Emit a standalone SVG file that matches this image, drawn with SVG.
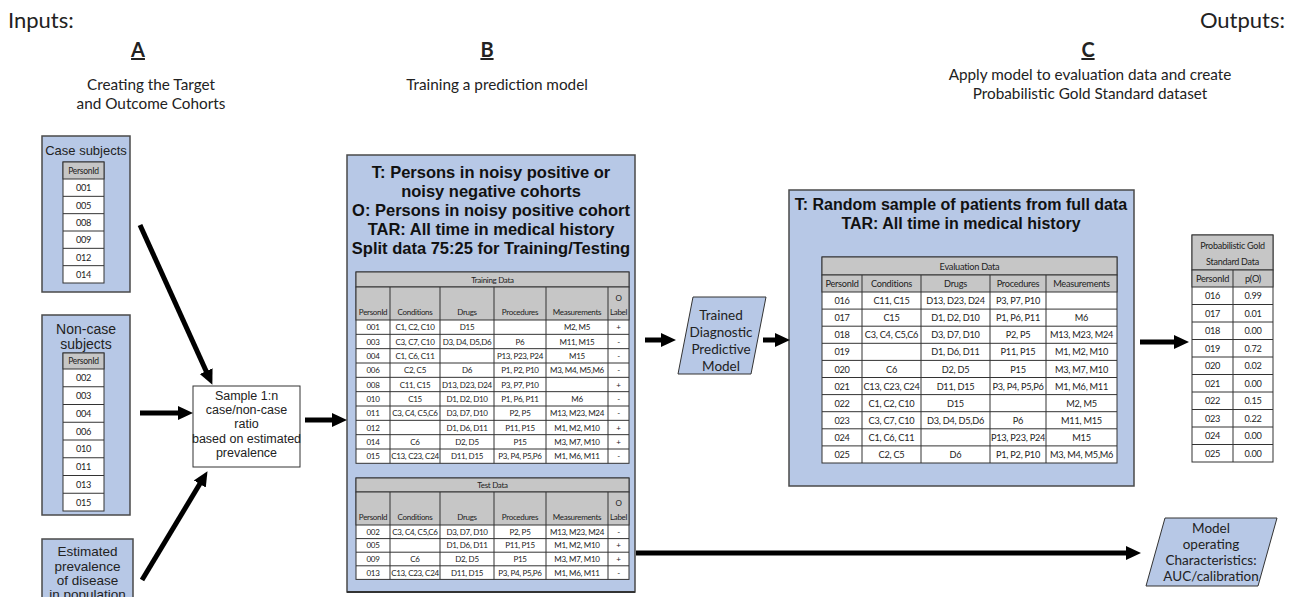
<svg xmlns="http://www.w3.org/2000/svg" width="1293" height="597" viewBox="0 0 1293 597">
<defs>
<style>
.hdr{font-family:Lato,"Liberation Sans",sans-serif;fill:#222}
.big{font-size:22px}
.lbl{font-size:20px;font-weight:bold;text-decoration:underline}
.sub{font-size:15.3px;text-anchor:middle}
.box{fill:#b7c8e6;stroke:#4a4a4a;stroke-width:1.5}
.bold{font-family:"Liberation Sans",Arial,sans-serif;font-weight:bold;fill:#111;text-anchor:middle}
.ar{font-family:"Liberation Sans",Arial,sans-serif;fill:#222;text-anchor:middle}
.cal{font-family:Lato,"Liberation Sans",sans-serif;fill:#222;text-anchor:middle}
.tbl{fill:#fff;stroke:#333;stroke-width:1}
.gry{fill:#c6c6c6;stroke:#333;stroke-width:1}
.grid{fill:none;stroke:#333;stroke-width:1}
.c{font-family:Lato,"Liberation Sans",sans-serif;fill:#222;text-anchor:middle;dominant-baseline:central}
.t8{font-size:8px;letter-spacing:-0.3px}
.t9{font-size:9.2px;letter-spacing:-0.25px}
.conn{stroke:#000;stroke-width:5;fill:none;marker-end:url(#ah)}
</style>
<marker id="ah" markerWidth="16" markerHeight="16" refX="2" refY="8" orient="auto" markerUnits="userSpaceOnUse"><path d="M0,1 L15,8 L0,15 z" fill="#000"/></marker>
</defs>
<rect width="1293" height="597" fill="#fff"/>

<g id="headers" class="hdr">
<text class="big" x="8" y="28">Inputs:</text>
<text class="big" x="1285" y="28" text-anchor="end">Outputs:</text>
<text class="lbl" x="138" y="57" text-anchor="middle">A</text>
<text class="sub" x="151" y="90">Creating the Target</text>
<text class="sub" x="151" y="109">and Outcome Cohorts</text>
<text class="lbl" x="487" y="57" text-anchor="middle">B</text>
<text class="sub" x="497" y="90">Training a prediction model</text>
<text class="lbl" x="1088" y="57" text-anchor="middle">C</text>
<text class="sub" x="1090" y="80">Apply model to evaluation data and create</text>
<text class="sub" x="1090" y="99">Probabilistic Gold Standard dataset</text>
</g>

<g id="case-subjects">
<rect class="box" x="42" y="136" width="88" height="156"/>
<text class="ar" x="86" y="155" font-size="13">Case subjects</text>
<rect class="tbl" x="63" y="162" width="41" height="121"/>
<rect class="gry" x="63" y="162" width="41" height="17"/>
<path class="grid" d="M63,196.33H104M63,213.67H104M63,231H104M63,248.33H104M63,265.67H104"/>
<g class="c t9">
<text x="83.5" y="170.5" font-size="8.5">PersonId</text>
<text x="83.5" y="187.7">001</text><text x="83.5" y="205">005</text><text x="83.5" y="222.3">008</text>
<text x="83.5" y="239.7">009</text><text x="83.5" y="257">012</text><text x="83.5" y="274.3">014</text>
</g>
</g>

<g id="noncase-subjects">
<rect class="box" x="42" y="315" width="88" height="200"/>
<text class="ar" x="86" y="334" font-size="14">Non-case</text>
<text class="ar" x="86" y="349" font-size="14">subjects</text>
<rect class="tbl" x="63" y="353" width="41" height="158"/>
<rect class="gry" x="63" y="353" width="41" height="16"/>
<path class="grid" d="M63,386.75H104M63,404.5H104M63,422.25H104M63,440H104M63,457.75H104M63,475.5H104M63,493.25H104"/>
<g class="c t9">
<text x="83.5" y="361" font-size="8.5">PersonId</text>
<text x="83.5" y="377.9">002</text><text x="83.5" y="395.6">003</text><text x="83.5" y="413.4">004</text>
<text x="83.5" y="431.1">006</text><text x="83.5" y="448.9">010</text><text x="83.5" y="466.6">011</text>
<text x="83.5" y="484.4">013</text><text x="83.5" y="502.1">015</text>
</g>
</g>

<g id="prevalence">
<rect class="box" x="42" y="539" width="91" height="70"/>
<text class="ar" x="87.5" y="556" font-size="13.5">Estimated</text>
<text class="ar" x="87.5" y="571" font-size="13.5">prevalence</text>
<text class="ar" x="87.5" y="585" font-size="13.5">of disease</text>
<text class="ar" x="87.5" y="599" font-size="13.5">in population</text>
</g>

<g id="sample">
<rect x="193" y="386" width="107" height="81" fill="#fff" stroke="#333" stroke-width="1"/>
<text class="ar" x="246.5" y="400" font-size="12.5">Sample 1:n</text>
<text class="ar" x="246.5" y="414" font-size="12.5">case/non-case</text>
<text class="ar" x="246.5" y="428" font-size="12.5">ratio</text>
<text class="ar" x="246.5" y="443" font-size="12.5">based on estimated</text>
<text class="ar" x="246.5" y="457" font-size="12.5">prevalence</text>
</g>

<g id="training-box">
<rect class="box" x="347" y="155" width="288" height="437"/>
<line x1="347" y1="592" x2="635" y2="592" stroke="#333" stroke-width="2"/>
<g class="bold" font-size="16.5">
<text x="491" y="178">T:  Persons in noisy positive or</text>
<text x="491" y="197">noisy negative cohorts</text>
<text x="491" y="216">O:  Persons in noisy positive cohort</text>
<text x="491" y="235">TAR:  All time in medical history</text>
<text x="491" y="254">Split data 75:25 for Training/Testing</text>
</g>
<g id="training-table">
<rect class="tbl" x="356" y="272" width="273" height="191.3"/>
<rect class="gry" x="356" y="272" width="273" height="15"/>
<rect class="gry" x="356" y="287" width="273" height="33"/>
<path class="grid" d="M390,287V463.3M440,287V463.3M494,287V463.3M546,287V463.3M608,287V463.3M356,334.33H629M356,348.67H629M356,363H629M356,377.33H629M356,391.67H629M356,406H629M356,420.33H629M356,434.67H629M356,449H629"/>
<g class="c t8">
<text x="492.5" y="279.5">Training Data</text>
<text x="373" y="312">PersonId</text><text x="415" y="312">Conditions</text><text x="467" y="312">Drugs</text><text x="520" y="312">Procedures</text><text x="577" y="312">Measurements</text><text x="618.5" y="298">O</text><text x="618.5" y="312">Label</text>
<text x="373" y="327.2">001</text><text x="415" y="327.2">C1, C2, C10</text><text x="467" y="327.2">D15</text><text x="577" y="327.2">M2, M5</text><text x="618.5" y="327.2">+</text>
<text x="373" y="341.5">003</text><text x="415" y="341.5">C3, C7, C10</text><text x="467" y="341.5">D3, D4, D5,D6</text><text x="520" y="341.5">P6</text><text x="577" y="341.5">M11, M15</text><text x="618.5" y="341.5">-</text>
<text x="373" y="355.8">004</text><text x="415" y="355.8">C1, C6, C11</text><text x="520" y="355.8">P13, P23, P24</text><text x="577" y="355.8">M15</text><text x="618.5" y="355.8">-</text>
<text x="373" y="370.2">006</text><text x="415" y="370.2">C2, C5</text><text x="467" y="370.2">D6</text><text x="520" y="370.2">P1, P2, P10</text><text x="577" y="370.2">M3, M4, M5,M6</text><text x="618.5" y="370.2">-</text>
<text x="373" y="384.5">008</text><text x="415" y="384.5">C11, C15</text><text x="467" y="384.5">D13, D23, D24</text><text x="520" y="384.5">P3, P7, P10</text><text x="618.5" y="384.5">+</text>
<text x="373" y="398.8">010</text><text x="415" y="398.8">C15</text><text x="467" y="398.8">D1, D2, D10</text><text x="520" y="398.8">P1, P6, P11</text><text x="577" y="398.8">M6</text><text x="618.5" y="398.8">-</text>
<text x="373" y="413.2">011</text><text x="415" y="413.2">C3, C4, C5,C6</text><text x="467" y="413.2">D3, D7, D10</text><text x="520" y="413.2">P2, P5</text><text x="577" y="413.2">M13, M23, M24</text><text x="618.5" y="413.2">-</text>
<text x="373" y="427.5">012</text><text x="467" y="427.5">D1, D6, D11</text><text x="520" y="427.5">P11, P15</text><text x="577" y="427.5">M1, M2, M10</text><text x="618.5" y="427.5">+</text>
<text x="373" y="441.8">014</text><text x="415" y="441.8">C6</text><text x="467" y="441.8">D2, D5</text><text x="520" y="441.8">P15</text><text x="577" y="441.8">M3, M7, M10</text><text x="618.5" y="441.8">+</text>
<text x="373" y="456.2">015</text><text x="415" y="456.2">C13, C23, C24</text><text x="467" y="456.2">D11, D15</text><text x="520" y="456.2">P3, P4, P5,P6</text><text x="577" y="456.2">M1, M6, M11</text><text x="618.5" y="456.2">-</text>
</g>
</g>
<g id="test-table">
<rect class="tbl" x="356" y="478" width="273" height="101.4"/>
<rect class="gry" x="356" y="478" width="273" height="14"/>
<rect class="gry" x="356" y="492" width="273" height="33"/>
<path class="grid" d="M390,492V579.4M440,492V579.4M494,492V579.4M546,492V579.4M608,492V579.4M356,538.6H629M356,552.2H629M356,565.8H629"/>
<g class="c t8">
<text x="492.5" y="485">Test Data</text>
<text x="373" y="517">PersonId</text><text x="415" y="517">Conditions</text><text x="467" y="517">Drugs</text><text x="520" y="517">Procedures</text><text x="577" y="517">Measurements</text><text x="618.5" y="503">O</text><text x="618.5" y="517">Label</text>
<text x="373" y="531.8">002</text><text x="415" y="531.8">C3, C4, C5,C6</text><text x="467" y="531.8">D3, D7, D10</text><text x="520" y="531.8">P2, P5</text><text x="577" y="531.8">M13, M23, M24</text><text x="618.5" y="531.8">-</text>
<text x="373" y="545.4">005</text><text x="467" y="545.4">D1, D6, D11</text><text x="520" y="545.4">P11, P15</text><text x="577" y="545.4">M1, M2, M10</text><text x="618.5" y="545.4">+</text>
<text x="373" y="559">009</text><text x="415" y="559">C6</text><text x="467" y="559">D2, D5</text><text x="520" y="559">P15</text><text x="577" y="559">M3, M7, M10</text><text x="618.5" y="559">+</text>
<text x="373" y="572.6">013</text><text x="415" y="572.6">C13, C23, C24</text><text x="467" y="572.6">D11, D15</text><text x="520" y="572.6">P3, P4, P5,P6</text><text x="577" y="572.6">M1, M6, M11</text><text x="618.5" y="572.6">-</text>
</g>
</g>
</g>

<g id="trained-model">
<polygon points="693,297 766,297 751,374 678,374" fill="#b7c8e6" stroke="#333" stroke-width="1"/>
<g class="cal" font-size="13.5">
<text x="721" y="320">Trained</text>
<text x="721" y="337">Diagnostic</text>
<text x="721" y="354">Predictive</text>
<text x="721" y="371">Model</text>
</g>
</g>

<g id="evaluation-box">
<rect class="box" x="789" y="190" width="345" height="296"/>
<g class="bold" font-size="16">
<text x="961" y="210">T: Random sample of patients from full data</text>
<text x="961" y="229">TAR:  All time in medical history</text>
</g>
<rect class="tbl" x="822" y="257" width="295" height="206"/>
<rect class="gry" x="822" y="257" width="295" height="18"/>
<rect class="gry" x="822" y="275" width="295" height="17"/>
<path class="grid" d="M862,275V463M921,275V463M990,275V463M1046,275V463M822,309.1H1117M822,326.2H1117M822,343.3H1117M822,360.4H1117M822,377.5H1117M822,394.6H1117M822,411.7H1117M822,428.8H1117M822,445.9H1117"/>
<g class="c t9">
<text x="969.5" y="266">Evaluation Data</text>
<text x="842" y="283.5">PersonId</text><text x="891.5" y="283.5">Conditions</text><text x="955.5" y="283.5">Drugs</text><text x="1018" y="283.5">Procedures</text><text x="1081.5" y="283.5">Measurements</text>
<text x="842" y="300.6">016</text><text x="891.5" y="300.6">C11, C15</text><text x="955.5" y="300.6">D13, D23, D24</text><text x="1018" y="300.6">P3, P7, P10</text>
<text x="842" y="317.7">017</text><text x="891.5" y="317.7">C15</text><text x="955.5" y="317.7">D1, D2, D10</text><text x="1018" y="317.7">P1, P6, P11</text><text x="1081.5" y="317.7">M6</text>
<text x="842" y="334.8">018</text><text x="891.5" y="334.8">C3, C4, C5,C6</text><text x="955.5" y="334.8">D3, D7, D10</text><text x="1018" y="334.8">P2, P5</text><text x="1081.5" y="334.8">M13, M23, M24</text>
<text x="842" y="351.9">019</text><text x="955.5" y="351.9">D1, D6, D11</text><text x="1018" y="351.9">P11, P15</text><text x="1081.5" y="351.9">M1, M2, M10</text>
<text x="842" y="369">020</text><text x="891.5" y="369">C6</text><text x="955.5" y="369">D2, D5</text><text x="1018" y="369">P15</text><text x="1081.5" y="369">M3, M7, M10</text>
<text x="842" y="386.1">021</text><text x="891.5" y="386.1">C13, C23, C24</text><text x="955.5" y="386.1">D11, D15</text><text x="1018" y="386.1">P3, P4, P5,P6</text><text x="1081.5" y="386.1">M1, M6, M11</text>
<text x="842" y="403.2">022</text><text x="891.5" y="403.2">C1, C2, C10</text><text x="955.5" y="403.2">D15</text><text x="1081.5" y="403.2">M2, M5</text>
<text x="842" y="420.3">023</text><text x="891.5" y="420.3">C3, C7, C10</text><text x="955.5" y="420.3">D3, D4, D5,D6</text><text x="1018" y="420.3">P6</text><text x="1081.5" y="420.3">M11, M15</text>
<text x="842" y="437.4">024</text><text x="891.5" y="437.4">C1, C6, C11</text><text x="1018" y="437.4">P13, P23, P24</text><text x="1081.5" y="437.4">M15</text>
<text x="842" y="454.5">025</text><text x="891.5" y="454.5">C2, C5</text><text x="955.5" y="454.5">D6</text><text x="1018" y="454.5">P1, P2, P10</text><text x="1081.5" y="454.5">M3, M4, M5,M6</text>
</g>
</g>

<g id="gold-standard">
<rect class="tbl" x="1192" y="235" width="81" height="227"/>
<rect class="gry" x="1192" y="235" width="81" height="35"/>
<rect class="gry" x="1192" y="270" width="81" height="17"/>
<path class="grid" d="M1233,270V462M1192,304.5H1273M1192,322H1273M1192,339.5H1273M1192,357H1273M1192,374.5H1273M1192,392H1273M1192,409.5H1273M1192,427H1273M1192,444.5H1273"/>
<g class="c t9">
<text x="1232.5" y="245" font-size="9">Probabilistic Gold</text>
<text x="1232.5" y="261" font-size="9">Standard Data</text>
<text x="1212.5" y="278.5">PersonId</text><text x="1253" y="278.5">p(O)</text>
<text x="1212.5" y="295.8">016</text><text x="1253" y="295.8">0.99</text>
<text x="1212.5" y="313.3">017</text><text x="1253" y="313.3">0.01</text>
<text x="1212.5" y="330.8">018</text><text x="1253" y="330.8">0.00</text>
<text x="1212.5" y="348.3">019</text><text x="1253" y="348.3">0.72</text>
<text x="1212.5" y="365.8">020</text><text x="1253" y="365.8">0.02</text>
<text x="1212.5" y="383.3">021</text><text x="1253" y="383.3">0.00</text>
<text x="1212.5" y="400.8">022</text><text x="1253" y="400.8">0.15</text>
<text x="1212.5" y="418.3">023</text><text x="1253" y="418.3">0.22</text>
<text x="1212.5" y="435.8">024</text><text x="1253" y="435.8">0.00</text>
<text x="1212.5" y="453.3">025</text><text x="1253" y="453.3">0.00</text>
</g>
</g>

<g id="model-characteristics">
<polygon points="1165,518 1277,518 1258,586 1146,586" fill="#b7c8e6" stroke="#333" stroke-width="1"/>
<g class="cal" font-size="13.5">
<text x="1211" y="533">Model</text>
<text x="1211" y="549">operating</text>
<text x="1211" y="565">Characteristics:</text>
<text x="1211" y="581">AUC/calibration</text>
</g>
</g>

<g id="connectors">
<line class="conn" x1="140" y1="225" x2="207" y2="373"/>
<line class="conn" x1="140" y1="413" x2="180" y2="413"/>
<line class="conn" x1="142" y1="580" x2="200.8" y2="482.3"/>
<line class="conn" x1="305" y1="420" x2="334" y2="420"/>
<line class="conn" x1="645" y1="340" x2="663" y2="340"/>
<line class="conn" x1="763" y1="340" x2="777" y2="340"/>
<line class="conn" x1="1140" y1="342" x2="1176" y2="342"/>
<line class="conn" x1="636" y1="553" x2="1128" y2="553"/>
</g>
</svg>
